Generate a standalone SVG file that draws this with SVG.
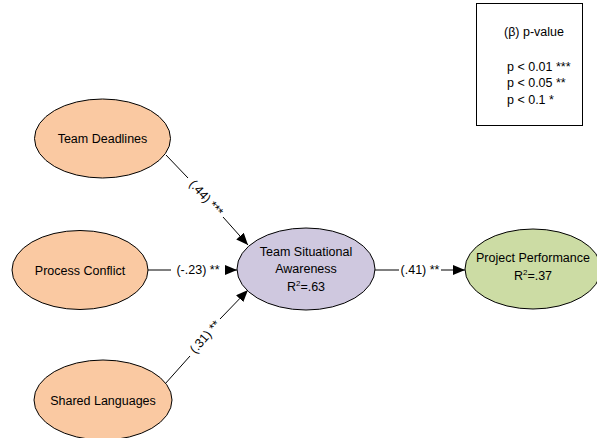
<svg xmlns="http://www.w3.org/2000/svg" width="597" height="438" viewBox="0 0 597 438">
<style>
text{font-family:"Liberation Sans",Arial,sans-serif;font-size:12.5px;fill:#000}
.n{stroke:#000;stroke-width:1}
.peach{fill:#FAC9A2}
.lav{fill:#CFC8DF}
.grn{fill:#CCDCA4}
.c{text-anchor:middle}
.e{stroke:#000;stroke-width:1;fill:none}
.sup{font-size:8px}
</style>
<defs>
<marker id="ah" markerWidth="12" markerHeight="10" refX="12" refY="5" orient="auto" markerUnits="userSpaceOnUse">
<path d="M0,0 L12,5 L0,10 Z" fill="#000"/>
</marker>
</defs>
<rect width="597" height="438" fill="#fff"/>
<g id="legend">
<rect x="476.5" y="3.5" width="106" height="122" fill="#fff" stroke="#000"/>
<text x="534" y="36" class="c">(β) p-value</text>
<text x="507" y="71">p &lt; 0.01 ***</text>
<text x="507" y="87">p &lt; 0.05 **</text>
<text x="507" y="104">p &lt; 0.1 *</text>
</g>
<g id="connectors">
<line class="e" x1="166" y1="155" x2="188" y2="178"/>
<line class="e" x1="223" y1="217" x2="248" y2="245" marker-end="url(#ah)"/>
<text class="c" transform="translate(206,198) rotate(48)" dy="4">(.44) ***</text>
<line class="e" x1="148" y1="270" x2="171" y2="270"/>
<line class="e" x1="225" y1="270" x2="237" y2="270" marker-end="url(#ah)"/>
<text x="198" y="274" class="c">(-.23) **</text>
<line class="e" x1="165" y1="384" x2="190" y2="356"/>
<line class="e" x1="220" y1="319" x2="248" y2="290" marker-end="url(#ah)"/>
<text class="c" transform="translate(205,337) rotate(-48.6)" dy="4">(.31) **</text>
<line class="e" x1="375" y1="270" x2="399" y2="270"/>
<line class="e" x1="441" y1="270" x2="465" y2="270" marker-end="url(#ah)"/>
<text x="420" y="274" class="c">(.41) **</text>
</g>
<g id="team-deadlines">
<ellipse class="n peach" cx="102.5" cy="138.5" rx="68" ry="39.5"/>
<text x="102.5" y="143" class="c">Team Deadlines</text>
</g>
<g id="process-conflict">
<ellipse class="n peach" cx="80" cy="270" rx="68" ry="39.5"/>
<text x="80" y="274.5" class="c">Process Conflict</text>
</g>
<g id="shared-languages">
<ellipse class="n peach" cx="103" cy="400" rx="69" ry="40"/>
<text x="103" y="404.5" class="c">Shared Languages</text>
</g>
<g id="team-situational-awareness">
<ellipse class="n lav" cx="306" cy="269" rx="69" ry="41"/>
<text x="306" y="256" class="c">Team Situational</text>
<text x="306" y="273" class="c">Awareness</text>
<text x="306" y="290.5" class="c">R<tspan class="sup" dy="-5">2</tspan><tspan dy="5">=.63</tspan></text>
</g>
<g id="project-performance">
<ellipse class="n grn" cx="533" cy="269" rx="68" ry="40"/>
<text x="533" y="262" class="c">Project Performance</text>
<text x="533" y="279.5" class="c">R<tspan class="sup" dy="-5">2</tspan><tspan dy="5">=.37</tspan></text>
</g>
</svg>
